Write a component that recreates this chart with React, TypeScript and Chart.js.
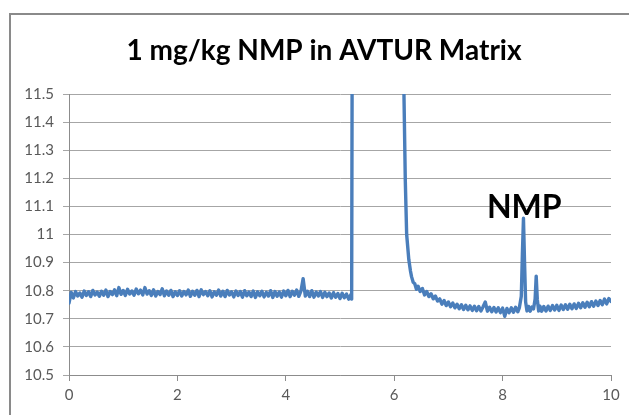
import React, { useEffect, useRef } from "react";
import { Chart, registerables } from "chart.js";

Chart.register(...registerables);

const chartTitle = "1 mg/kg NMP in AVTUR Matrix";
const peakLabel = { text: "NMP", x: 8.4, y: 11.06 };

const xTickValues = [0, 2, 4, 6, 8, 10];
const yTickValues = [10.5, 10.6, 10.7, 10.8, 10.9, 11, 11.1, 11.2, 11.3, 11.4, 11.5];

// Baseline before the solvent peak: times 0.00 .. 5.20 every 0.04 min
const baselineAStart = 0;
const baselineAStep = 0.04;
const baselineA = [
  10.756, 10.794, 10.774, 10.797, 10.781, 10.792, 10.777, 10.799, 10.783, 10.796,
  10.779, 10.801, 10.785, 10.795, 10.780, 10.798, 10.784, 10.802, 10.779, 10.797,
  10.786, 10.803, 10.782, 10.811, 10.787, 10.801, 10.783, 10.805, 10.788, 10.799,
  10.784, 10.806, 10.789, 10.802, 10.785, 10.811, 10.788, 10.800, 10.783, 10.803,
  10.781, 10.797, 10.786, 10.807, 10.782, 10.799, 10.784, 10.801, 10.779, 10.796,
  10.783, 10.800, 10.781, 10.797, 10.785, 10.802, 10.780, 10.798, 10.784, 10.801,
  10.779, 10.803, 10.786, 10.797, 10.782, 10.800, 10.778, 10.796, 10.784, 10.802,
  10.781, 10.798, 10.779, 10.801, 10.785, 10.796, 10.778, 10.799, 10.783, 10.797,
  10.777, 10.800, 10.782, 10.795, 10.779, 10.799, 10.776, 10.796, 10.782, 10.798,
  10.778, 10.794, 10.781, 10.800, 10.776, 10.797, 10.780, 10.795, 10.777, 10.799,
  10.782, 10.801, 10.779, 10.798, 10.784, 10.802, 10.780, 10.799, 10.843, 10.781,
  10.798, 10.779, 10.800, 10.777, 10.795, 10.781, 10.797, 10.776, 10.794, 10.779,
  10.792, 10.774, 10.793, 10.777, 10.790, 10.772, 10.791, 10.775, 10.788, 10.770,
  10.786,
];

// Solvent peak (goes off scale)
const solventTimes = [5.215, 5.235, 5.7, 6.165, 6.18, 6.205, 6.23, 6.27, 6.3, 6.32, 6.35, 6.38, 6.41];
const solventValues = [10.77, 12.6, 24, 12.2, 11.5, 11.19, 11.0, 10.91, 10.87, 10.85, 10.83, 10.825, 10.805];

// Baseline after solvent: 6.44 .. 8.28 every 0.04 min
const baselineBStart = 6.44;
const baselineBStep = 0.04;
const baselineB = [
  10.816, 10.797, 10.808, 10.785, 10.797, 10.779, 10.789, 10.771, 10.781, 10.763,
  10.771, 10.752, 10.765, 10.747, 10.760, 10.743, 10.756, 10.739, 10.752, 10.736,
  10.750, 10.733, 10.748, 10.732, 10.746, 10.730, 10.745, 10.729, 10.744, 10.728,
  10.743, 10.760, 10.727, 10.741, 10.725, 10.740, 10.724, 10.739, 10.722, 10.738,
  10.709, 10.737, 10.722, 10.739, 10.723, 10.741, 10.725,
];

// NMP peak and following small peak
const nmpTimes = [8.31, 8.345, 8.365, 8.385, 8.405, 8.425, 8.45, 8.48, 8.51, 8.54, 8.57, 8.6, 8.62, 8.64, 8.665, 8.69];
const nmpValues = [10.74, 10.78, 10.93, 11.058, 10.9, 10.76, 10.728, 10.744, 10.727, 10.742, 10.735, 10.77, 10.852, 10.77, 10.728, 10.745];

// Final baseline: 8.72 .. 10.00 every 0.04 min
const baselineCStart = 8.72;
const baselineCStep = 0.04;
const baselineC = [
  10.727, 10.744, 10.728, 10.745, 10.730, 10.747, 10.731, 10.748, 10.730, 10.749,
  10.733, 10.750, 10.734, 10.752, 10.736, 10.753, 10.737, 10.755, 10.739, 10.757,
  10.741, 10.759, 10.743, 10.761, 10.745, 10.763, 10.747, 10.765, 10.750, 10.770,
  10.753, 10.772, 10.762,
];

function buildPoints() {
  const pts: { x: number; y: number }[] = [];
  baselineA.forEach((v, i) => pts.push({ x: +(baselineAStart + i * baselineAStep).toFixed(3), y: v }));
  solventTimes.forEach((t, i) => pts.push({ x: t, y: solventValues[i] }));
  baselineB.forEach((v, i) => pts.push({ x: +(baselineBStart + i * baselineBStep).toFixed(3), y: v }));
  nmpTimes.forEach((t, i) => pts.push({ x: t, y: nmpValues[i] }));
  baselineC.forEach((v, i) => pts.push({ x: +(baselineCStart + i * baselineCStep).toFixed(3), y: v }));
  return pts;
}

const FONT = "Lato, 'Open Sans', sans-serif";

export default function App() {
  const ref = useRef<HTMLCanvasElement | null>(null);

  useEffect(() => {
    if (!ref.current) return;
    const textPlugin = {
      id: "texts",
      afterDraw(chart: any) {
        const ctx = chart.ctx;
        ctx.save();
        ctx.fillStyle = "#000000";
        ctx.textAlign = "center";
        ctx.textBaseline = "alphabetic";
        ctx.font = `bold 28px ${FONT}`;
        ctx.fillText(chartTitle, 324, 60);
        const xs = chart.scales.x;
        const ys = chart.scales.y;
        ctx.font = `bold 32px ${FONT}`;
        ctx.fillText(peakLabel.text, xs.getPixelForValue(peakLabel.x), ys.getPixelForValue(peakLabel.y));
        ctx.restore();
      },
    };

    const chart = new Chart(ref.current, {
      type: "line",
      data: {
        datasets: [
          {
            data: buildPoints(),
            borderColor: "#4a7ebb",
            borderWidth: 3.4,
            pointRadius: 0,
            tension: 0,
            borderJoinStyle: "round",
            borderCapStyle: "round",
            fill: false,
          },
        ],
      },
      options: {
        animation: false,
        responsive: false,
        parsing: false as any,
        normalized: true,
        layout: { padding: { top: 94, right: 18, bottom: 0, left: 0 } },
        plugins: {
          legend: { display: false },
          tooltip: { enabled: false },
          title: { display: false },
        },
        scales: {
          x: {
            type: "linear",
            min: 0,
            max: 10,
            afterFit: (s: any) => {
              s.height = 40;
            },
            afterBuildTicks: (s: any) => {
              s.ticks = xTickValues.map((v) => ({ value: v }));
            },
            grid: {
              drawOnChartArea: false,
              drawTicks: true,
              tickLength: 6,
              color: "#8c8c8c",
            },
            border: { color: "#8c8c8c", width: 1 },
            ticks: {
              padding: 5,
              color: "#595959",
              font: { family: FONT, size: 15 },
              maxRotation: 0,
              callback: (v: any) => String(v),
            },
          },
          y: {
            type: "linear",
            min: 10.5,
            max: 11.5,
            afterFit: (s: any) => {
              s.width = 69;
            },
            afterBuildTicks: (s: any) => {
              s.ticks = yTickValues.map((v) => ({ value: v }));
            },
            grid: {
              drawOnChartArea: true,
              drawTicks: true,
              tickLength: 6,
              color: "#a6a6a6",
            },
            border: { color: "#8c8c8c", width: 1 },
            ticks: {
              padding: 9,
              color: "#595959",
              font: { family: FONT, size: 15 },
              callback: (v: any) => String(Math.round(Number(v) * 10) / 10),
            },
          },
        },
      },
      plugins: [textPlugin],
    });
    return () => chart.destroy();
  }, []);

  return (
    <div
      style={{
        position: "absolute",
        left: 0,
        top: 0,
        width: 629,
        height: 415,
        overflow: "hidden",
        background: "#ffffff",
      }}
    >
      <div
        style={{
          position: "absolute",
          left: 9,
          top: 13,
          width: 700,
          height: 500,
          border: "2px solid #8a8a8a",
          boxSizing: "border-box",
        }}
      />
      <canvas
        ref={ref}
        width={629}
        height={415}
        style={{ position: "absolute", left: 0, top: 0, width: 629, height: 415, display: "block" }}
      />
    </div>
  );
}
